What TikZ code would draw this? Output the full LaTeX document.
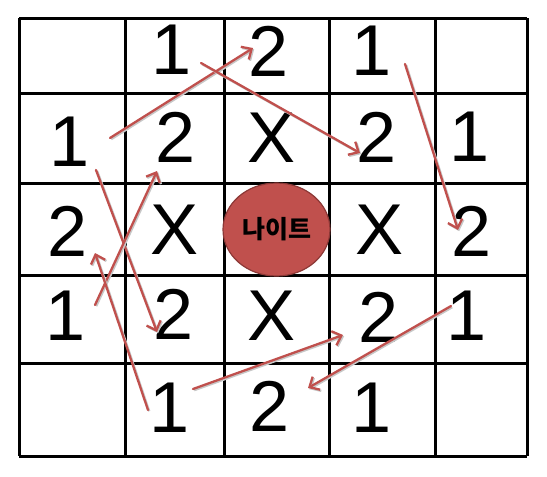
\documentclass[tikz,border=0pt]{standalone}
\usepackage{fontspec}
\setmainfont{Liberation Sans}
\newfontfamily\krfont{Noto Sans CJK KR}
\usetikzlibrary{arrows.meta,shapes.geometric}
\definecolor{kred}{HTML}{C0504D}
\definecolor{kredd}{HTML}{8C3836}
\tikzset{
  grid line/.style={line width=3pt, black},
  digit/.style={inner sep=0pt, font=\fontsize{72}{72}\selectfont},
  jump/.style={draw=kred, line width=2.3pt, line cap=round,
    -{Straight Barb[length=8pt,width=15pt,line width=2.3pt]},
    preaction={draw=black!22, line width=2.3pt, transform canvas={shift={(1.2pt,-1.2pt)}}}},
}
\begin{document}
\begin{tikzpicture}[x=1pt,y=-1pt]
\useasboundingbox (0,0) rectangle (547,477);
% grid
\foreach \x in {19,125,224,329,435,527} \draw[grid line] (\x,18) -- (\x,456);
\foreach \y in {18,93,183,275,363,456} \draw[grid line] (19,\y) -- (527,\y);
% knight
\node[ellipse, fill=kred, draw=kredd, line width=1.2pt, minimum width=107pt, minimum height=93pt, inner sep=0pt] (knight) at (276.5,229.5) {\krfont\bfseries\fontsize{25}{25}\selectfont 나이트};
% row 1
\node[digit] (a2) at (172,50) {1};
\node[digit] (a3) at (269,51) {2};
\node[digit] (a4) at (372,51) {1};
% row 2
\node[digit] (b1) at (70,142) {1};
\node[digit] (b2) at (176,137) {2};
\node[digit] (b3) at (272,138) {X};
\node[digit] (b4) at (377,137) {2};
\node[digit] (b5) at (470,137) {1};
% row 3
\node[digit] (c1) at (68,231) {2};
\node[digit] (c2) at (175,230) {X};
\node[digit] (c4) at (380,230) {X};
\node[digit] (c5) at (472,231) {2};
% row 4
\node[digit] (d1) at (66,316) {1};
\node[digit] (d2) at (174,314) {2};
\node[digit] (d3) at (272,316) {X};
\node[digit] (d4) at (379,317) {2};
\node[digit] (d5) at (467,316) {1};
% row 5
\node[digit] (e2) at (170,408) {1};
\node[digit] (e3) at (270,406) {2};
\node[digit] (e4) at (372,408) {1};
% arrow end points
\coordinate (p1s) at (110,138); \coordinate (p1e) at (253,48);
\coordinate (p2s) at (201,63);  \coordinate (p2e) at (360,153);
\coordinate (p3s) at (405,64);  \coordinate (p3e) at (458,230);
\coordinate (p4s) at (96,170);  \coordinate (p4e) at (157,332);
\coordinate (p5s) at (95,305);  \coordinate (p5e) at (157,171);
\coordinate (p6s) at (148,410); \coordinate (p6e) at (95,253);
\coordinate (p7s) at (193,389); \coordinate (p7e) at (343,335);
\coordinate (p8s) at (451,306); \coordinate (p8e) at (308,388);
\foreach \i in {1,...,8} \draw[jump] (p\i s) -- (p\i e);
\end{tikzpicture}
\end{document}
